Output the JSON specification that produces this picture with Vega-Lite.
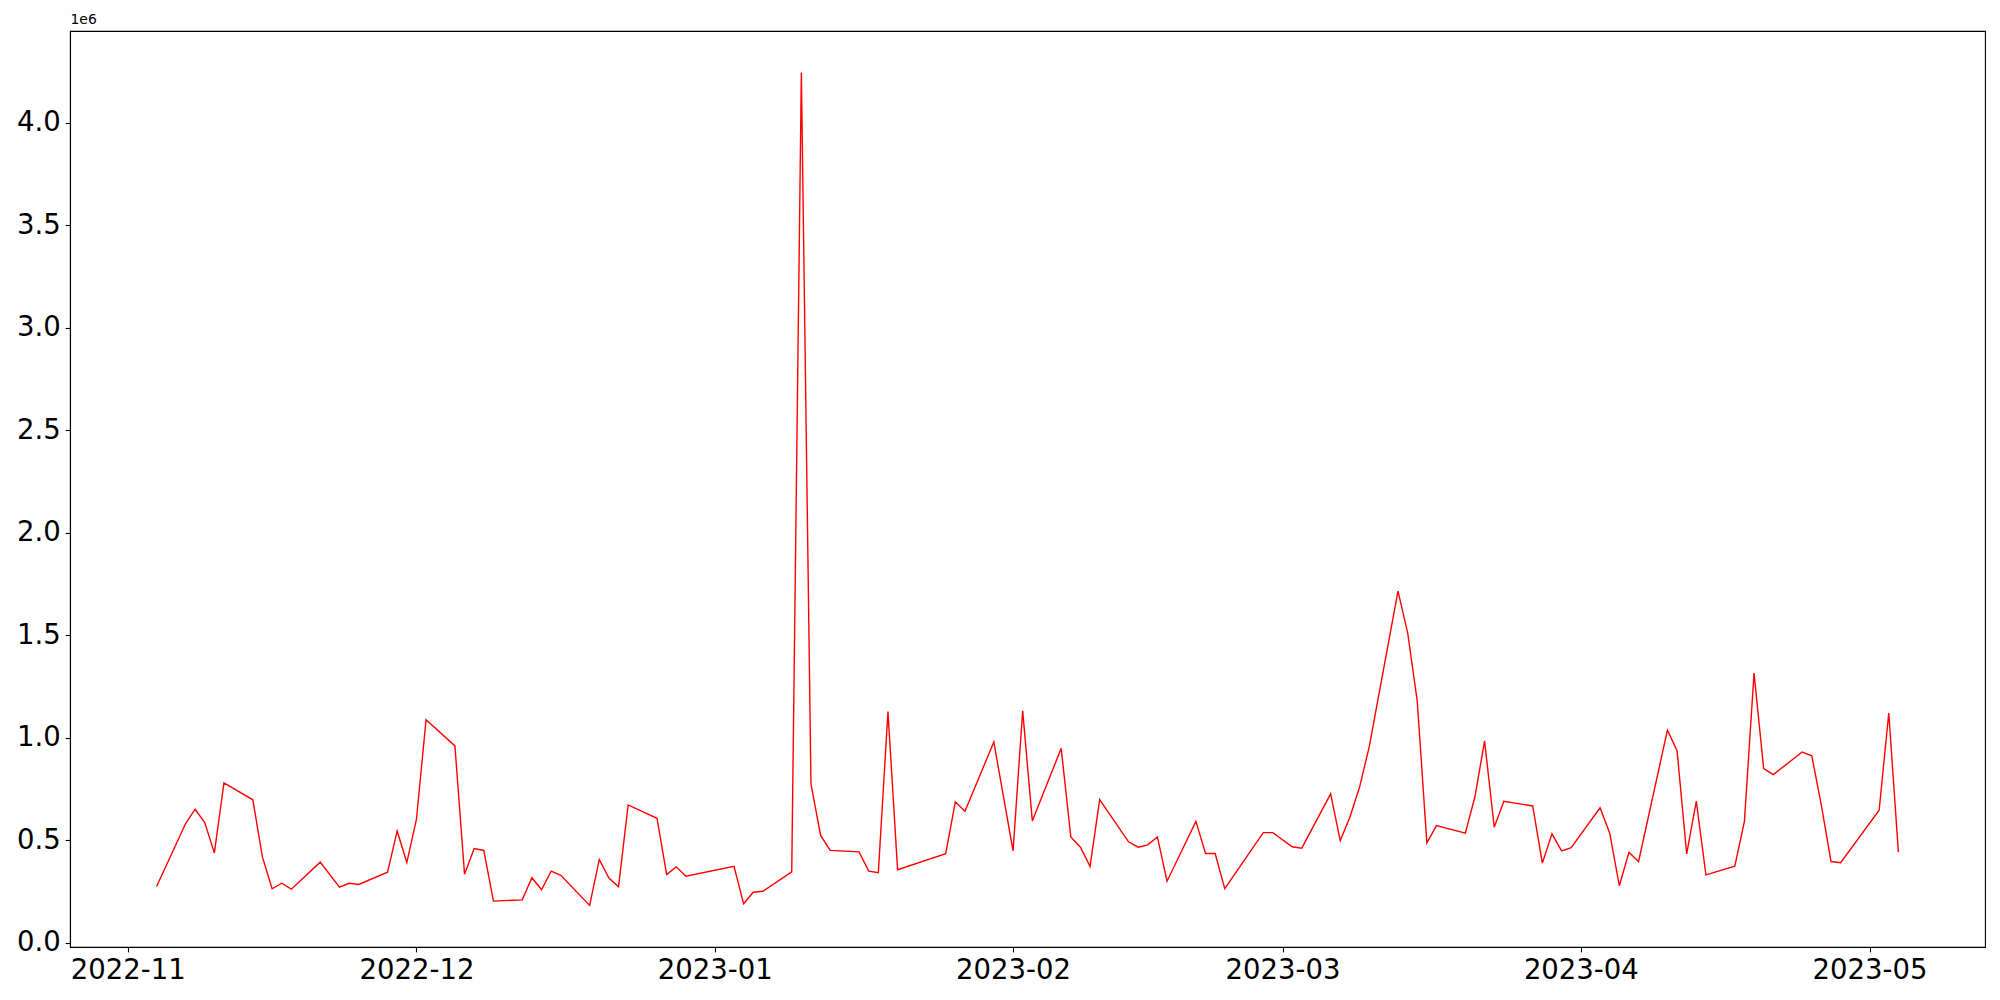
{
  "$schema": "https://vega.github.io/schema/vega-lite/v6.json",
  "width": 1915,
  "height": 916,
  "autosize": {"type": "none"},
  "padding": {"left": 70, "top": 31, "right": 15, "bottom": 53},
  "background": "white",
  "data": {
    "values": [
      {"date": "2022-11-04", "value": 274000},
      {"date": "2022-11-07", "value": 580000},
      {"date": "2022-11-08", "value": 651000},
      {"date": "2022-11-09", "value": 586000},
      {"date": "2022-11-10", "value": 438000},
      {"date": "2022-11-11", "value": 779000},
      {"date": "2022-11-14", "value": 697000},
      {"date": "2022-11-15", "value": 417000},
      {"date": "2022-11-16", "value": 263000},
      {"date": "2022-11-17", "value": 290000},
      {"date": "2022-11-18", "value": 261000},
      {"date": "2022-11-21", "value": 393000},
      {"date": "2022-11-23", "value": 271000},
      {"date": "2022-11-24", "value": 290000},
      {"date": "2022-11-25", "value": 284000},
      {"date": "2022-11-28", "value": 344000},
      {"date": "2022-11-29", "value": 545000},
      {"date": "2022-11-30", "value": 391000},
      {"date": "2022-12-01", "value": 601000},
      {"date": "2022-12-02", "value": 1088000},
      {"date": "2022-12-05", "value": 960000},
      {"date": "2022-12-06", "value": 334000},
      {"date": "2022-12-07", "value": 459000},
      {"date": "2022-12-08", "value": 450000},
      {"date": "2022-12-09", "value": 203000},
      {"date": "2022-12-12", "value": 209000},
      {"date": "2022-12-13", "value": 317000},
      {"date": "2022-12-14", "value": 258000},
      {"date": "2022-12-15", "value": 349000},
      {"date": "2022-12-16", "value": 329000},
      {"date": "2022-12-19", "value": 182000},
      {"date": "2022-12-20", "value": 406000},
      {"date": "2022-12-21", "value": 315000},
      {"date": "2022-12-22", "value": 273000},
      {"date": "2022-12-23", "value": 672000},
      {"date": "2022-12-26", "value": 607000},
      {"date": "2022-12-27", "value": 333000},
      {"date": "2022-12-28", "value": 370000},
      {"date": "2022-12-29", "value": 324000},
      {"date": "2023-01-03", "value": 373000},
      {"date": "2023-01-04", "value": 190000},
      {"date": "2023-01-05", "value": 246000},
      {"date": "2023-01-06", "value": 251000},
      {"date": "2023-01-09", "value": 346000},
      {"date": "2023-01-10", "value": 4244000},
      {"date": "2023-01-11", "value": 774000},
      {"date": "2023-01-12", "value": 523000},
      {"date": "2023-01-13", "value": 450000},
      {"date": "2023-01-16", "value": 443000},
      {"date": "2023-01-17", "value": 349000},
      {"date": "2023-01-18", "value": 342000},
      {"date": "2023-01-19", "value": 1127000},
      {"date": "2023-01-20", "value": 356000},
      {"date": "2023-01-25", "value": 434000},
      {"date": "2023-01-26", "value": 687000},
      {"date": "2023-01-27", "value": 641000},
      {"date": "2023-01-30", "value": 979000},
      {"date": "2023-02-01", "value": 448000},
      {"date": "2023-02-02", "value": 1131000},
      {"date": "2023-02-03", "value": 594000},
      {"date": "2023-02-06", "value": 948000},
      {"date": "2023-02-07", "value": 516000},
      {"date": "2023-02-08", "value": 466000},
      {"date": "2023-02-09", "value": 372000},
      {"date": "2023-02-10", "value": 698000},
      {"date": "2023-02-13", "value": 492000},
      {"date": "2023-02-14", "value": 466000},
      {"date": "2023-02-15", "value": 477000},
      {"date": "2023-02-16", "value": 516000},
      {"date": "2023-02-17", "value": 300000},
      {"date": "2023-02-20", "value": 592000},
      {"date": "2023-02-21", "value": 435000},
      {"date": "2023-02-22", "value": 435000},
      {"date": "2023-02-23", "value": 264000},
      {"date": "2023-02-27", "value": 537000},
      {"date": "2023-02-28", "value": 537000},
      {"date": "2023-03-02", "value": 468000},
      {"date": "2023-03-03", "value": 461000},
      {"date": "2023-03-06", "value": 726000},
      {"date": "2023-03-07", "value": 498000},
      {"date": "2023-03-08", "value": 612000},
      {"date": "2023-03-09", "value": 758000},
      {"date": "2023-03-10", "value": 953000},
      {"date": "2023-03-13", "value": 1715000},
      {"date": "2023-03-14", "value": 1513000},
      {"date": "2023-03-15", "value": 1180000},
      {"date": "2023-03-16", "value": 487000},
      {"date": "2023-03-17", "value": 571000},
      {"date": "2023-03-20", "value": 534000},
      {"date": "2023-03-21", "value": 713000},
      {"date": "2023-03-22", "value": 984000},
      {"date": "2023-03-23", "value": 563000},
      {"date": "2023-03-24", "value": 690000},
      {"date": "2023-03-27", "value": 667000},
      {"date": "2023-03-28", "value": 388000},
      {"date": "2023-03-29", "value": 531000},
      {"date": "2023-03-30", "value": 448000},
      {"date": "2023-03-31", "value": 463000},
      {"date": "2023-04-03", "value": 658000},
      {"date": "2023-04-04", "value": 534000},
      {"date": "2023-04-05", "value": 278000},
      {"date": "2023-04-06", "value": 441000},
      {"date": "2023-04-07", "value": 396000},
      {"date": "2023-04-10", "value": 1037000},
      {"date": "2023-04-11", "value": 937000},
      {"date": "2023-04-12", "value": 433000},
      {"date": "2023-04-13", "value": 690000},
      {"date": "2023-04-14", "value": 331000},
      {"date": "2023-04-17", "value": 373000},
      {"date": "2023-04-18", "value": 592000},
      {"date": "2023-04-19", "value": 1315000},
      {"date": "2023-04-20", "value": 849000},
      {"date": "2023-04-21", "value": 820000},
      {"date": "2023-04-24", "value": 930000},
      {"date": "2023-04-25", "value": 912000},
      {"date": "2023-04-26", "value": 669000},
      {"date": "2023-04-27", "value": 396000},
      {"date": "2023-04-28", "value": 390000},
      {"date": "2023-05-02", "value": 646000},
      {"date": "2023-05-03", "value": 1120000},
      {"date": "2023-05-04", "value": 441000}
    ],
    "format": {"parse": {"date": "utc:'%Y-%m-%d'"}}
  },
  "mark": {"type": "line", "color": "#ff0000", "strokeWidth": 1.4, "clip": true},
  "encoding": {
    "x": {
      "field": "date",
      "type": "temporal",
      "scale": {
        "type": "utc",
        "domain": [
          {"year": 2022, "month": 10, "date": 26, "utc": true},
          {"year": 2023, "month": 5, "date": 13, "utc": true}
        ]
      },
      "axis": {
        "title": null,
        "format": "%Y-%m",
        "values": [
          {"year": 2022, "month": 11, "date": 1, "utc": true},
          {"year": 2022, "month": 12, "date": 1, "utc": true},
          {"year": 2023, "month": 1, "date": 1, "utc": true},
          {"year": 2023, "month": 2, "date": 1, "utc": true},
          {"year": 2023, "month": 3, "date": 1, "utc": true},
          {"year": 2023, "month": 4, "date": 1, "utc": true},
          {"year": 2023, "month": 5, "date": 1, "utc": true}
        ],
        "labelFlush": false,
        "labelOverlap": false
      }
    },
    "y": {
      "field": "value",
      "type": "quantitative",
      "scale": {"domain": [-21000, 4447000], "nice": false, "zero": false},
      "axis": {
        "title": "1e6",
        "titleAngle": 0,
        "titleX": 0,
        "titleY": -5,
        "titleAlign": "left",
        "titleBaseline": "bottom",
        "titleFont": "DejaVu Sans",
        "titleFontSize": 13.9,
        "titleFontWeight": "normal",
        "titleColor": "black",
        "values": [0, 500000, 1000000, 1500000, 2000000, 2500000, 3000000, 3500000, 4000000],
        "labelExpr": "format(datum.value / 1000000, '.1f')",
        "labelFlush": false,
        "labelOverlap": false
      }
    }
  },
  "config": {
    "view": {"stroke": "black", "strokeWidth": 1.1},
    "axis": {
      "grid": false,
      "domainColor": "black",
      "domainWidth": 1.1,
      "tickColor": "black",
      "tickWidth": 1.1,
      "tickSize": 4.9,
      "labelPadding": 4.9,
      "labelColor": "black",
      "labelFont": "DejaVu Sans",
      "labelFontSize": 27.5
    }
  }
}
